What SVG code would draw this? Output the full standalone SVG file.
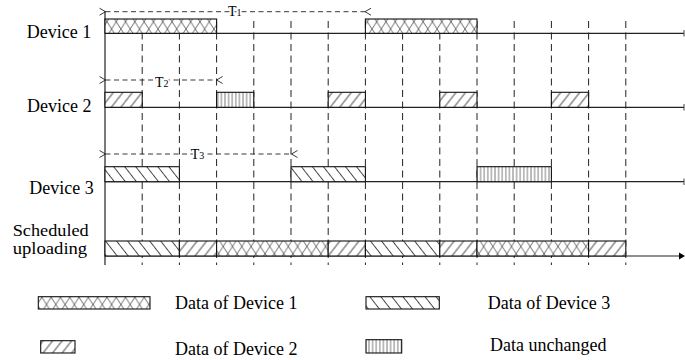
<svg xmlns="http://www.w3.org/2000/svg" width="685" height="360" viewBox="0 0 685 360">
<defs>
<style>
text{font-family:"Liberation Serif","Times New Roman",serif;fill:#000}
.lbl{font-size:18px}
.sch{font-size:16.5px}
.t{font-size:14px;paint-order:stroke;stroke:#fff;stroke-width:3px;stroke-linejoin:round}
.sub{font-size:10px}
.box{stroke:#111;stroke-width:1.1}
.base{stroke:#222;stroke-width:1.2;fill:none}
.grid{stroke:#222;stroke-width:1;stroke-dasharray:7 4.5;fill:none}
.arr{stroke:#222;stroke-width:0.9;stroke-dasharray:5 3.5;fill:none}
.hd{stroke:#222;stroke-width:0.9;fill:none;stroke-dasharray:none}
.cross{fill:url(#cross)}
.back{fill:url(#back)}
.fwd{fill:url(#fwd)}
.vert{fill:url(#vert)}
</style>
<pattern id="cross" patternUnits="userSpaceOnUse" width="9.3" height="14.5">
<rect width="9.3" height="14.5" fill="#fff"/>
<path d="M0,0L9.3,14.5M9.3,0L0,14.5" stroke="#444" stroke-width="0.8"/>
</pattern>
<pattern id="back" patternUnits="userSpaceOnUse" width="8.7" height="10" patternTransform="rotate(-38)">
<rect width="8.7" height="10" fill="#fff"/>
<path d="M4.35,0V10" stroke="#333" stroke-width="0.9"/>
</pattern>
<pattern id="fwd" patternUnits="userSpaceOnUse" width="7.5" height="10" patternTransform="rotate(38)">
<rect width="7.5" height="10" fill="#fff"/>
<path d="M3.75,0V10" stroke="#333" stroke-width="0.9"/>
</pattern>
<pattern id="vert" patternUnits="userSpaceOnUse" width="3.6" height="10">
<rect width="3.6" height="10" fill="#fff"/>
<path d="M1.8,0V10" stroke="#555" stroke-width="0.8"/>
</pattern>
<marker id="open" viewBox="-1 -5 8 10" refX="0" refY="0" markerWidth="8" markerHeight="10" markerUnits="userSpaceOnUse" orient="auto-start-reverse">
<path class="hd" d="M6,-3.5L0,0L6,3.5"/>
</marker>
</defs>
<rect width="685" height="360" fill="#fff"/>

<g id="grid">
<path class="grid" d="M142.2,21V265M179.4,21V265M216.6,21V265M253.8,21V265M291,21V265M328.2,21V265M365.4,21V265M402.6,21V265M439.8,21V265M477,21V265M514.2,21V265M551.4,21V265M588.6,21V265M625.8,21V265"/>
<path class="base" d="M105,11V265"/>
<path class="base" d="M105,33.3H684M105,107.3H684M105,181.7H684M105,256H680"/>
<path d="M684,30V36.5M684,104V110.5M684,178.5V185" stroke="#444" stroke-width="1"/>
<path d="M679,252.5L685,256L679,259.5Z" fill="#000"/>
</g>

<g id="device1">
<text class="lbl" x="26.7" y="37.7">Device 1</text>
<rect class="box cross" x="105" y="19" width="111.6" height="14.3"/>
<rect class="box cross" x="365.4" y="19" width="111.6" height="14.3"/>
</g>

<g id="device2">
<text class="lbl" x="27" y="111.7">Device 2</text>
<rect class="box fwd" x="105" y="92.3" width="37.2" height="15"/>
<rect class="box vert" x="216.6" y="92.3" width="37.2" height="15"/>
<rect class="box fwd" x="328.2" y="92.3" width="37.2" height="15"/>
<rect class="box fwd" x="439.8" y="92.3" width="37.2" height="15"/>
<rect class="box fwd" x="551.4" y="92.3" width="37.2" height="15"/>
</g>

<g id="device3">
<text class="lbl" x="29.3" y="194.3">Device 3</text>
<rect class="box back" x="105" y="166.7" width="74.4" height="15"/>
<rect class="box back" x="291" y="166.7" width="74.4" height="15"/>
<rect class="box vert" x="477" y="166.7" width="74.4" height="15"/>
</g>

<g id="scheduled">
<text class="sch" x="12.7" y="235.8" textLength="76" lengthAdjust="spacingAndGlyphs">Scheduled</text>
<text class="sch" x="12.7" y="254.4" textLength="74.5" lengthAdjust="spacingAndGlyphs">uploading</text>
<rect class="box back" x="105" y="241" width="74.4" height="15"/>
<rect class="box fwd" x="179.4" y="241" width="37.2" height="15"/>
<rect class="box cross" x="216.6" y="241" width="111.6" height="15"/>
<rect class="box fwd" x="328.2" y="241" width="37.2" height="15"/>
<rect class="box back" x="365.4" y="241" width="74.4" height="15"/>
<rect class="box fwd" x="439.8" y="241" width="37.2" height="15"/>
<rect class="box cross" x="477" y="241" width="111.6" height="15"/>
<rect class="box fwd" x="588.6" y="241" width="37.2" height="15"/>
</g>

<g id="connectors">
<path class="arr" d="M105.5,11.7H365" marker-start="url(#open)" marker-end="url(#open)"/>
<path class="arr" d="M105.5,80H216.6" marker-start="url(#open)" marker-end="url(#open)"/>
<path class="arr" d="M105.5,154H291.5" marker-start="url(#open)" marker-end="url(#open)"/>
<text class="t" x="228" y="16.3">T<tspan class="sub">1</tspan></text>
<text class="t" x="155" y="87.3">T<tspan class="sub">2</tspan></text>
<text class="t" x="190.7" y="159.3">T<tspan class="sub">3</tspan></text>
</g>

<g id="legend">
<g id="legend-device1">
<rect class="box cross" x="38.3" y="296.7" width="111.7" height="12.3"/>
<text class="lbl" x="175" y="309">Data of Device 1</text>
</g>
<g id="legend-device3">
<rect class="box back" x="366" y="296.7" width="73.3" height="12.3"/>
<text class="lbl" x="487.7" y="309">Data of Device 3</text>
</g>
<g id="legend-device2">
<rect class="box fwd" x="40.7" y="340.7" width="34.3" height="12.3"/>
<text class="lbl" x="175" y="355.3">Data of Device 2</text>
</g>
<g id="legend-unchanged">
<rect class="box vert" x="366" y="339.7" width="35.7" height="13.3"/>
<text class="lbl" x="490" y="351.3">Data unchanged</text>
</g>
</g>
</svg>
